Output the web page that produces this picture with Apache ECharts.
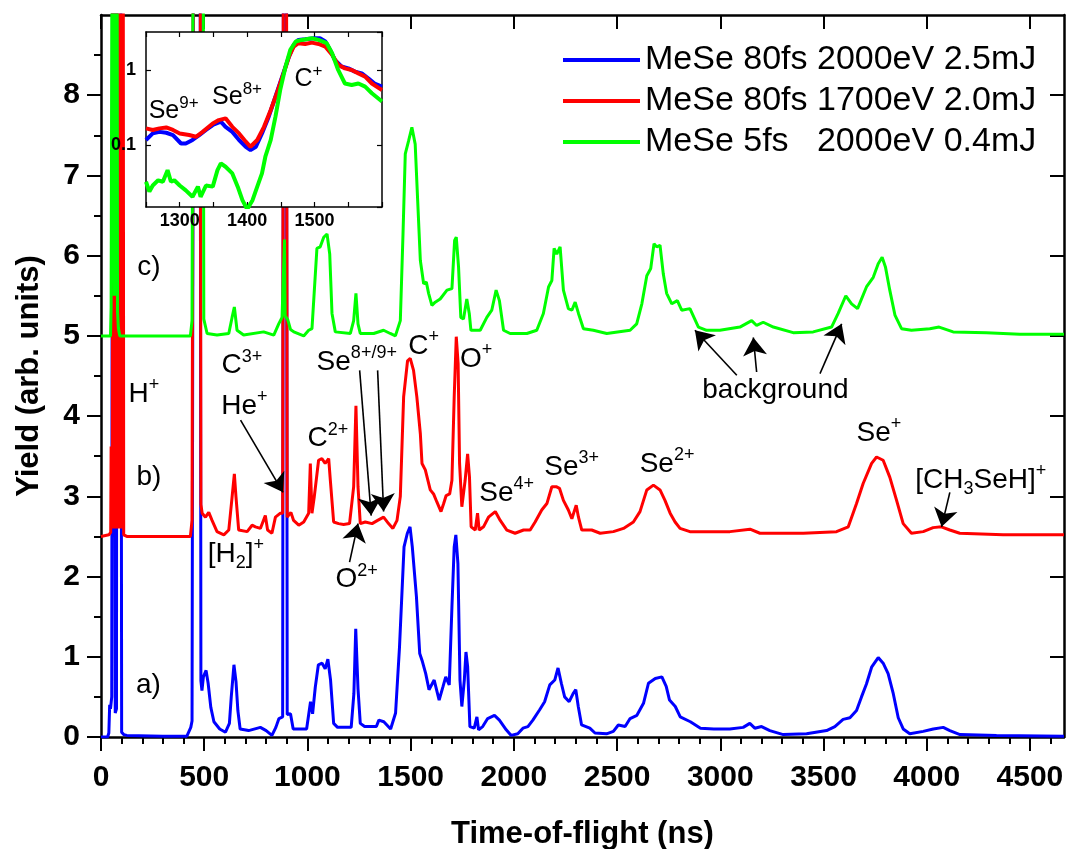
<!DOCTYPE html>
<html><head><meta charset="utf-8">
<script src="https://cdn.jsdelivr.net/npm/echarts@6/dist/echarts.min.js"></script>
<style>html,body{margin:0;padding:0;background:#fff}#c{width:1066px;height:849px}</style>
</head><body><div id="c"></div>
<script>
// ---------- data ----------
const seriesNames = ['MeSe 80fs 2000eV 2.5mJ', 'MeSe 80fs 1700eV 2.0mJ', 'MeSe 5fs   2000eV 0.4mJ'];

// a) blue trace (offset 0)
const tofA = [[0,0],[32,0],[38,0.05],[42,0.4],[46,0.35],[52,0.5],[56,0.5],[58,16],[64,16],[69,0.3],[75,0.35],[79,16],[93,16],[100,0.06],[110,0.03],[125,0.02],[300,0.01],[416,0.01],[435,0.12],[441,0.2],[452,16],[478,16],[484,0.7],[489,0.58],[496,0.75],[509,0.83],[519,0.67],[532,0.37],[547,0.19],[575,0.1],[603,0.06],[622,0.17],[631,0.5],[644,0.9],[654,0.69],[663,0.33],[674,0.1],[715,0.08],[772,0.12],[800,0.08],[828,0.02],[847,0.12],[862,0.23],[880,0.25],[886,16],[896,16],[902,0.28],[918,0.29],[931,0.1],[996,0.1],[1015,0.44],[1025,0.29],[1038,0.62],[1053,0.9],[1071,0.92],[1086,0.85],[1099,0.97],[1112,0.71],[1127,0.17],[1146,0.12],[1212,0.12],[1225,0.54],[1234,1.35],[1245,0.6],[1256,0.17],[1277,0.13],[1334,0.13],[1346,0.21],[1370,0.19],[1403,0.1],[1427,0.3],[1446,1.12],[1468,2.37],[1484,2.54],[1497,2.62],[1508,2.37],[1528,1.75],[1544,1.04],[1557,0.94],[1573,0.79],[1589,0.59],[1614,0.71],[1638,0.46],[1657,0.63],[1670,0.75],[1687,0.65],[1700,1.62],[1711,2.37],[1719,2.52],[1729,2.16],[1739,0.71],[1748,0.38],[1760,0.71],[1768,1.06],[1776,0.88],[1787,0.13],[1808,0.11],[1821,0.25],[1829,0.09],[1849,0.13],[1873,0.23],[1906,0.27],[1930,0.21],[1963,0.09],[1987,0.02],[2019,0.04],[2044,0.11],[2068,0.13],[2092,0.21],[2125,0.34],[2149,0.44],[2174,0.65],[2198,0.71],[2214,0.86],[2230,0.67],[2246,0.5],[2268,0.44],[2287,0.54],[2300,0.59],[2312,0.38],[2328,0.15],[2368,0.11],[2393,0.05],[2449,0.04],[2482,0.07],[2506,0.15],[2539,0.13],[2563,0.23],[2596,0.27],[2628,0.42],[2652,0.67],[2685,0.73],[2717,0.75],[2738,0.63],[2754,0.46],[2782,0.38],[2806,0.25],[2855,0.19],[2904,0.11],[2969,0.1],[3046,0.1],[3111,0.12],[3143,0.17],[3167,0.11],[3200,0.13],[3240,0.08],[3305,0.03],[3418,0.04],[3515,0.08],[3555,0.13],[3595,0.22],[3628,0.24],[3660,0.33],[3684,0.5],[3708,0.66],[3733,0.87],[3765,0.99],[3789,0.92],[3813,0.79],[3838,0.54],[3862,0.24],[3886,0.1],[3918,0.04],[3983,0.07],[4032,0.1],[4080,0.12],[4112,0.08],[4161,0.03],[4338,0.02],[4665,0.01]];

// b) red trace (offset 2.5)
const tofB = [[0,2.5],[38,2.52],[47,2.55],[49,3.62],[52,2.6],[55,3.0],[58,16],[61,2.6],[64,16],[67,2.6],[70,16],[73,2.6],[76,16],[79,2.6],[82,16],[85,2.6],[88,16],[91,2.6],[94,16],[97,2.6],[100,16],[103,2.6],[106,16],[110,2.52],[125,2.5],[433,2.5],[441,2.7],[452,16],[478,16],[484,2.9],[490,2.79],[506,2.74],[522,2.8],[538,2.7],[562,2.56],[595,2.52],[619,2.58],[635,2.99],[646,3.28],[654,2.99],[667,2.58],[708,2.56],[732,2.64],[748,2.62],[772,2.6],[796,2.76],[807,2.58],[828,2.54],[845,2.74],[869,2.79],[880,2.79],[886,16],[896,16],[902,2.74],[909,2.74],[920,2.8],[933,2.7],[958,2.64],[982,2.68],[1006,2.79],[1014,3.41],[1022,2.79],[1033,2.99],[1054,3.45],[1070,3.47],[1086,3.41],[1103,3.47],[1111,3.2],[1127,2.68],[1151,2.66],[1175,2.65],[1204,2.66],[1224,3.12],[1235,4.13],[1245,3.12],[1256,2.66],[1280,2.68],[1313,2.66],[1340,2.7],[1369,2.74],[1393,2.66],[1414,2.6],[1434,2.7],[1450,3.0],[1466,4.24],[1485,4.69],[1498,4.72],[1514,4.57],[1530,4.24],[1547,3.78],[1555,3.41],[1571,3.33],[1595,3.08],[1611,3.03],[1627,2.93],[1647,2.81],[1660,2.91],[1672,3.01],[1689,3.03],[1700,3.2],[1711,4.24],[1721,4.99],[1730,4.65],[1737,3.41],[1748,2.87],[1764,3.2],[1776,3.53],[1785,3.24],[1793,2.62],[1813,2.58],[1824,2.79],[1832,2.58],[1853,2.62],[1877,2.74],[1910,2.81],[1934,2.7],[1966,2.58],[2006,2.54],[2047,2.58],[2079,2.58],[2103,2.68],[2135,2.83],[2160,2.91],[2184,3.12],[2205,3.12],[2221,3.1],[2240,2.95],[2264,2.83],[2281,2.72],[2302,2.89],[2313,2.74],[2329,2.58],[2377,2.58],[2418,2.54],[2482,2.56],[2531,2.6],[2579,2.68],[2611,2.81],[2644,3.08],[2676,3.14],[2708,3.08],[2732,2.95],[2757,2.79],[2781,2.68],[2805,2.6],[2853,2.56],[2950,2.56],[3047,2.56],[3144,2.59],[3192,2.54],[3402,2.54],[3563,2.56],[3620,2.62],[3660,2.91],[3692,3.16],[3733,3.41],[3757,3.49],[3789,3.45],[3821,3.24],[3854,2.95],[3886,2.66],[3926,2.54],[3983,2.56],[4031,2.61],[4071,2.62],[4112,2.58],[4160,2.54],[4370,2.52],[4665,2.52]];

// c) green trace (offset 5)
const tofC = [[0,5.0],[46,5.0],[49,5.36],[56,5.38],[59,16],[64,5.5],[68,16],[72,5.5],[76,16],[80,5.3],[84,5.1],[91,5.0],[433,5.0],[441,5.19],[453,16],[492,16],[498,5.21],[514,5.03],[562,5.01],[619,5.03],[635,5.23],[646,5.36],[659,5.07],[691,5.01],[788,5.05],[837,5.01],[861,5.15],[877,5.23],[886,5.22],[889,6.2],[892,5.25],[905,5.2],[918,5.08],[934,5.05],[982,5.0],[1006,5.07],[1022,5.09],[1046,6.09],[1062,6.11],[1079,6.23],[1095,6.27],[1108,6.02],[1119,5.28],[1135,5.05],[1208,5.03],[1224,5.19],[1235,5.53],[1245,5.15],[1256,5.03],[1321,5.03],[1369,5.07],[1401,5.03],[1426,5.0],[1450,5.19],[1463,6.27],[1474,7.27],[1490,7.43],[1506,7.6],[1522,7.39],[1534,6.69],[1547,5.94],[1563,5.65],[1576,5.67],[1587,5.53],[1603,5.38],[1619,5.42],[1643,5.46],[1676,5.57],[1700,5.59],[1713,6.19],[1721,6.23],[1732,5.86],[1743,5.23],[1756,5.21],[1772,5.46],[1784,5.28],[1792,5.07],[1837,5.07],[1869,5.23],[1893,5.32],[1914,5.57],[1930,5.44],[1950,5.07],[1982,5.03],[2063,5.03],[2111,5.07],[2143,5.28],[2168,5.61],[2184,5.69],[2195,6.09],[2208,6.02],[2224,6.11],[2240,5.57],[2264,5.34],[2281,5.32],[2297,5.42],[2313,5.28],[2337,5.09],[2385,5.07],[2450,5.03],[2563,5.07],[2595,5.15],[2620,5.4],[2644,5.75],[2663,5.84],[2679,6.15],[2692,6.11],[2708,6.13],[2724,5.77],[2740,5.53],[2765,5.4],[2792,5.44],[2813,5.32],[2853,5.34],[2894,5.11],[2934,5.07],[2998,5.07],[3095,5.11],[3152,5.19],[3176,5.13],[3208,5.17],[3257,5.11],[3353,5.04],[3450,5.05],[3539,5.11],[3571,5.28],[3608,5.5],[3636,5.4],[3665,5.34],[3708,5.61],[3741,5.73],[3765,5.9],[3784,5.98],[3800,5.86],[3821,5.57],[3846,5.26],[3878,5.09],[3926,5.07],[4015,5.09],[4060,5.11],[4128,5.05],[4289,5.04],[4451,5.02],[4665,5.02]];

// inset (log scale)
const insetA = [[1250,0.117],[1260,0.143],[1270,0.15],[1280,0.146],[1290,0.136],[1302,0.105],[1309,0.105],[1319,0.117],[1329,0.136],[1339,0.159],[1349,0.185],[1361,0.205],[1368,0.175],[1378,0.15],[1388,0.117],[1398,0.095],[1405,0.086],[1413,0.095],[1422,0.143],[1432,0.239],[1442,0.44],[1452,0.815],[1462,1.5],[1469,2.15],[1476,2.51],[1486,2.56],[1499,2.64],[1508,2.64],[1516,2.39],[1523,1.85],[1530,1.36],[1540,1.11],[1550,1.05],[1560,0.95],[1570,0.9],[1580,0.77],[1589,0.66],[1600,0.6]];
const insetB = [[1250,0.167],[1260,0.159],[1270,0.167],[1280,0.172],[1290,0.159],[1300,0.143],[1314,0.136],[1324,0.129],[1334,0.15],[1349,0.194],[1358,0.215],[1368,0.227],[1378,0.175],[1388,0.143],[1398,0.111],[1405,0.095],[1415,0.117],[1425,0.175],[1435,0.293],[1444,0.489],[1454,0.9],[1462,1.5],[1469,2.04],[1476,2.27],[1486,2.22],[1496,2.31],[1506,2.22],[1516,2.04],[1526,1.59],[1535,1.17],[1545,1.05],[1555,1.0],[1565,0.9],[1575,0.815],[1585,0.66],[1600,0.54]];
const insetC = [[1250,0.0325],[1255,0.024],[1260,0.029],[1268,0.034],[1275,0.0325],[1282,0.0464],[1287,0.0325],[1292,0.034],[1300,0.029],[1309,0.025],[1319,0.0205],[1327,0.028],[1331,0.0205],[1339,0.029],[1349,0.028],[1356,0.0464],[1361,0.057],[1368,0.0515],[1378,0.042],[1386,0.028],[1393,0.0185],[1400,0.014],[1408,0.0185],[1415,0.028],[1422,0.042],[1427,0.07],[1435,0.117],[1442,0.239],[1449,0.54],[1457,1.11],[1464,1.85],[1472,2.39],[1481,2.51],[1496,2.64],[1506,2.51],[1518,2.27],[1526,1.67],[1535,1.0],[1545,0.66],[1555,0.63],[1565,0.66],[1575,0.6],[1585,0.49],[1600,0.38]];

// ticks
const xMajorTicks = [0,500,1000,1500,2000,2500,3000,3500,4000,4500];
const xMinorTicks = [100,200,300,400,600,700,800,900,1100,1200,1300,1400,1600,1700,1800,1900,2100,2200,2300,2400,2600,2700,2800,2900,3100,3200,3300,3400,3600,3700,3800,3900,4100,4200,4300,4400,4600];
const yMajorTicks = [0,1,2,3,4,5,6,7,8];
const yMinorTicks = [0.5,1.5,2.5,3.5,4.5,5.5,6.5,7.5,8.5];
const insetXLabels = [1300,1400,1500];

// annotations (main plot, data coordinates)
const mainNoteText = ['{t|a)}','{t|b)}','{t|c)}','{t|H}{sup|+}','{t|C}{sup|3+}','{t|He}{sup|+}','{t|C}{sup|2+}','{t|[H}{sub|2}{t|]}{sup|+}','{t|O}{sup|2+}','{t|Se}{sup|8+/9+}','{t|C}{sup|+}','{t|O}{sup|+}','{t|Se}{sup|4+}','{t|Se}{sup|3+}','{t|Se}{sup|2+}','{t|background}','{t|Se}{sup|+}','{t|[CH}{sub|3}{t|SeH]}{sup|+}'];
const mainNoteX = [230,232,232,208,683,695,1099,653,1238,1239,1563,1817,1965,2280,2742,3267,3768,4262];
const mainNoteY = [0.64,3.24,5.85,4.27,4.63,4.12,3.72,2.28,1.96,4.67,4.87,4.71,3.04,3.36,3.40,4.32,3.79,3.2];
const arrowFrom = [[676,3.95],[1204,2.18],[1253,4.57],[1340,4.57],[3080,4.51],[3176,4.55],[3483,4.53],[4112,3.05]];
const arrowTo = [[882,3.05],[1245,2.66],[1309,2.76],[1369,2.81],[2877,5.07],[3160,4.98],[3588,5.15],[4072,2.62]];

// annotations (inset)
const insetNoteText = ['{t|Se}{sup|9+}','{t|Se}{sup|8+}','{t|C}{sup|+}'];
const insetNoteX = [1291,1385,1491];
const insetNoteY = [0.284,0.43,0.76];

// ---------- chart ----------
const FONT = 'Liberation Sans, Arial, sans-serif';
const chart = echarts.init(document.getElementById('c'), null, {renderer: 'canvas'});
const colors = ['#0000ff', '#ff0000', '#00ff00'];
const black = '#000';
const INSET_LAYER = 1;

function valAxis(o) {
  return Object.assign({
    type: 'value', splitLine: {show: false}, axisLine: {show: false},
    axisTick: {show: false}, axisLabel: {show: false}
  }, o);
}
const mainX = {gridIndex: 0, min: 0, max: 4665};
const mainY = {gridIndex: 0, min: 0, max: 9};
const insetX = {gridIndex: 1, min: 1250, max: 1600, zlevel: INSET_LAYER};
const plain = v => String(v);

const xAxes = [
  valAxis(Object.assign({}, mainX, {position: 'bottom',
    axisLine: {show: true, onZero: false, lineStyle: {color: black, width: 2.5}},
    axisTick: {show: true, customValues: xMajorTicks, length: 14, lineStyle: {color: black, width: 2}},
    axisLabel: {show: true, customValues: xMajorTicks, formatter: plain, fontSize: 30, fontWeight: 'bold', fontFamily: FONT, color: black, margin: 26},
    name: 'Time-of-flight (ns)', nameLocation: 'middle', nameGap: 82,
    nameTextStyle: {fontSize: 31, fontWeight: 'bold', fontFamily: FONT, color: black}})),
  valAxis(Object.assign({}, mainX, {position: 'bottom',
    axisTick: {show: true, customValues: xMinorTicks, length: 7, lineStyle: {color: black, width: 2}}})),
  valAxis(Object.assign({}, mainX, {position: 'top',
    axisLine: {show: true, onZero: false, lineStyle: {color: black, width: 2.5}},
    axisTick: {show: true, inside: true, customValues: xMajorTicks, length: 14, lineStyle: {color: black, width: 2}}})),
  valAxis(Object.assign({}, mainX, {position: 'top',
    axisTick: {show: true, inside: true, customValues: xMinorTicks, length: 7, lineStyle: {color: black, width: 2}}})),
  valAxis(Object.assign({}, insetX, {position: 'bottom', interval: 50,
    axisLine: {show: true, onZero: false, lineStyle: {color: black, width: 1.5}},
    axisTick: {show: true, inside: true, length: 5, lineStyle: {color: black, width: 1.2}},
    axisLabel: {show: true, fontSize: 18, fontWeight: 'bold', fontFamily: FONT, color: black, margin: 5,
      formatter: v => insetXLabels.indexOf(v) >= 0 ? String(v) : ''}})),
  valAxis(Object.assign({}, insetX, {position: 'top', interval: 50,
    axisLine: {show: true, onZero: false, lineStyle: {color: black, width: 1.5}},
    axisTick: {show: true, inside: true, length: 5, lineStyle: {color: black, width: 1.2}}}))
];
const yAxes = [
  valAxis(Object.assign({}, mainY, {position: 'left',
    axisLine: {show: true, onZero: false, lineStyle: {color: black, width: 2.5}},
    axisTick: {show: true, customValues: yMajorTicks, length: 14, lineStyle: {color: black, width: 2}},
    axisLabel: {show: true, customValues: yMajorTicks, formatter: plain, fontSize: 30, fontWeight: 'bold', fontFamily: FONT, color: black, margin: 21},
    name: 'Yield (arb. units)', nameLocation: 'middle', nameGap: 56,
    nameTextStyle: {fontSize: 31, fontWeight: 'bold', fontFamily: FONT, color: black}})),
  valAxis(Object.assign({}, mainY, {position: 'left',
    axisTick: {show: true, customValues: yMinorTicks, length: 7, lineStyle: {color: black, width: 2}}})),
  valAxis(Object.assign({}, mainY, {position: 'right',
    axisLine: {show: true, onZero: false, lineStyle: {color: black, width: 2.5}},
    axisTick: {show: true, inside: true, customValues: yMajorTicks, length: 14, lineStyle: {color: black, width: 2}}})),
  valAxis(Object.assign({}, mainY, {position: 'right',
    axisTick: {show: true, inside: true, customValues: yMinorTicks, length: 7, lineStyle: {color: black, width: 2}}})),
  {type: 'log', logBase: 10, gridIndex: 1, min: 0.015, max: 3.2, position: 'left', zlevel: INSET_LAYER,
    splitLine: {show: false},
    axisLine: {show: true, onZero: false, lineStyle: {color: black, width: 1.5}},
    axisTick: {show: true, inside: true, length: 5, lineStyle: {color: black, width: 1.2}},
    axisLabel: {show: true, showMinLabel: false, showMaxLabel: false, fontSize: 18, fontWeight: 'bold', fontFamily: FONT, color: black, margin: 10}},
  {type: 'log', logBase: 10, gridIndex: 1, min: 0.015, max: 3.2, position: 'right', zlevel: INSET_LAYER,
    splitLine: {show: false},
    axisLine: {show: true, onZero: false, lineStyle: {color: black, width: 1.5}},
    axisTick: {show: true, inside: true, length: 5, lineStyle: {color: black, width: 1.2}},
    axisLabel: {show: false}}
];

const noBorder = {textBorderWidth: 0, textBorderColor: 'transparent', textShadowBlur: 0, opacity: 1};
const mainRich = {
  t: Object.assign({fontSize: 28, lineHeight: 36, fontFamily: FONT, color: black}, noBorder),
  sup: Object.assign({fontSize: 18, lineHeight: 18, verticalAlign: 'top', fontFamily: FONT, color: black}, noBorder),
  sub: Object.assign({fontSize: 18, lineHeight: 18, verticalAlign: 'bottom', fontFamily: FONT, color: black}, noBorder)
};
const insetRich = {
  t: Object.assign({fontSize: 25, lineHeight: 33, fontFamily: FONT, color: black}, noBorder),
  sup: Object.assign({fontSize: 17, lineHeight: 17, verticalAlign: 'top', fontFamily: FONT, color: black}, noBorder)
};

function lineSeries(name, data, color, xi, yi, width, z, zlevel) {
  return {name: name, type: 'line', data: data, xAxisIndex: xi, yAxisIndex: yi,
    showSymbol: false, symbol: 'none', clip: true, animation: false, z: z, zlevel: zlevel || 0,
    lineStyle: {color: color, width: width}, itemStyle: {color: color}};
}
function noteLabel(t, rich) {
  return Object.assign({show: true, position: 'inside', formatter: t, rich: rich, color: black}, noBorder);
}

const series = [
  lineSeries(seriesNames[0], tofA, colors[0], 0, 0, 3, 2),
  lineSeries(seriesNames[1], tofB, colors[1], 0, 0, 3, 2),
  lineSeries(seriesNames[2], tofC, colors[2], 0, 0, 3, 2),
  lineSeries('inset a', insetA, colors[0], 4, 4, 4, 6, INSET_LAYER),
  lineSeries('inset b', insetB, colors[1], 4, 4, 4, 6, INSET_LAYER),
  lineSeries('inset c', insetC, colors[2], 4, 4, 4, 6, INSET_LAYER),
  {type: 'scatter', xAxisIndex: 0, yAxisIndex: 0, z: 4, symbolSize: 0, silent: true,
    itemStyle: {color: black, opacity: 1},
    data: mainNoteText.map((t, i) => ({value: [mainNoteX[i], mainNoteY[i]], label: noteLabel(t, mainRich)}))},
  {type: 'scatter', xAxisIndex: 4, yAxisIndex: 4, z: 7, zlevel: INSET_LAYER, symbolSize: 0, silent: true,
    itemStyle: {color: black, opacity: 1},
    data: insetNoteText.map((t, i) => ({value: [insetNoteX[i], insetNoteY[i]], label: noteLabel(t, insetRich)}))},
  {type: 'lines', coordinateSystem: 'cartesian2d', xAxisIndex: 0, yAxisIndex: 0, z: 4,
    symbol: ['none', 'arrow'], symbolSize: [11, 18], silent: true,
    lineStyle: {color: black, width: 1.6, opacity: 1},
    data: arrowFrom.map((p, i) => ({coords: [p, arrowTo[i]]}))}
];

chart.setOption({
  animation: false,
  backgroundColor: '#fff',
  grid: [
    {left: 101, right: 2, top: 15, bottom: 112, containLabel: false, outerBoundsMode: 'none'},
    {left: 146, top: 32, width: 236, height: 175, show: true, backgroundColor: '#fff', borderWidth: 0, zlevel: INSET_LAYER, outerBoundsMode: 'none'}
  ],
  legend: {
    data: seriesNames, left: 563, top: 43, orient: 'vertical', padding: 0,
    itemWidth: 77, itemHeight: 4, itemGap: 7, icon: 'rect',
    textStyle: {fontSize: 34, fontFamily: FONT, color: black}
  },
  xAxis: xAxes,
  yAxis: yAxes,
  series: series
});
</script>
</body></html>
